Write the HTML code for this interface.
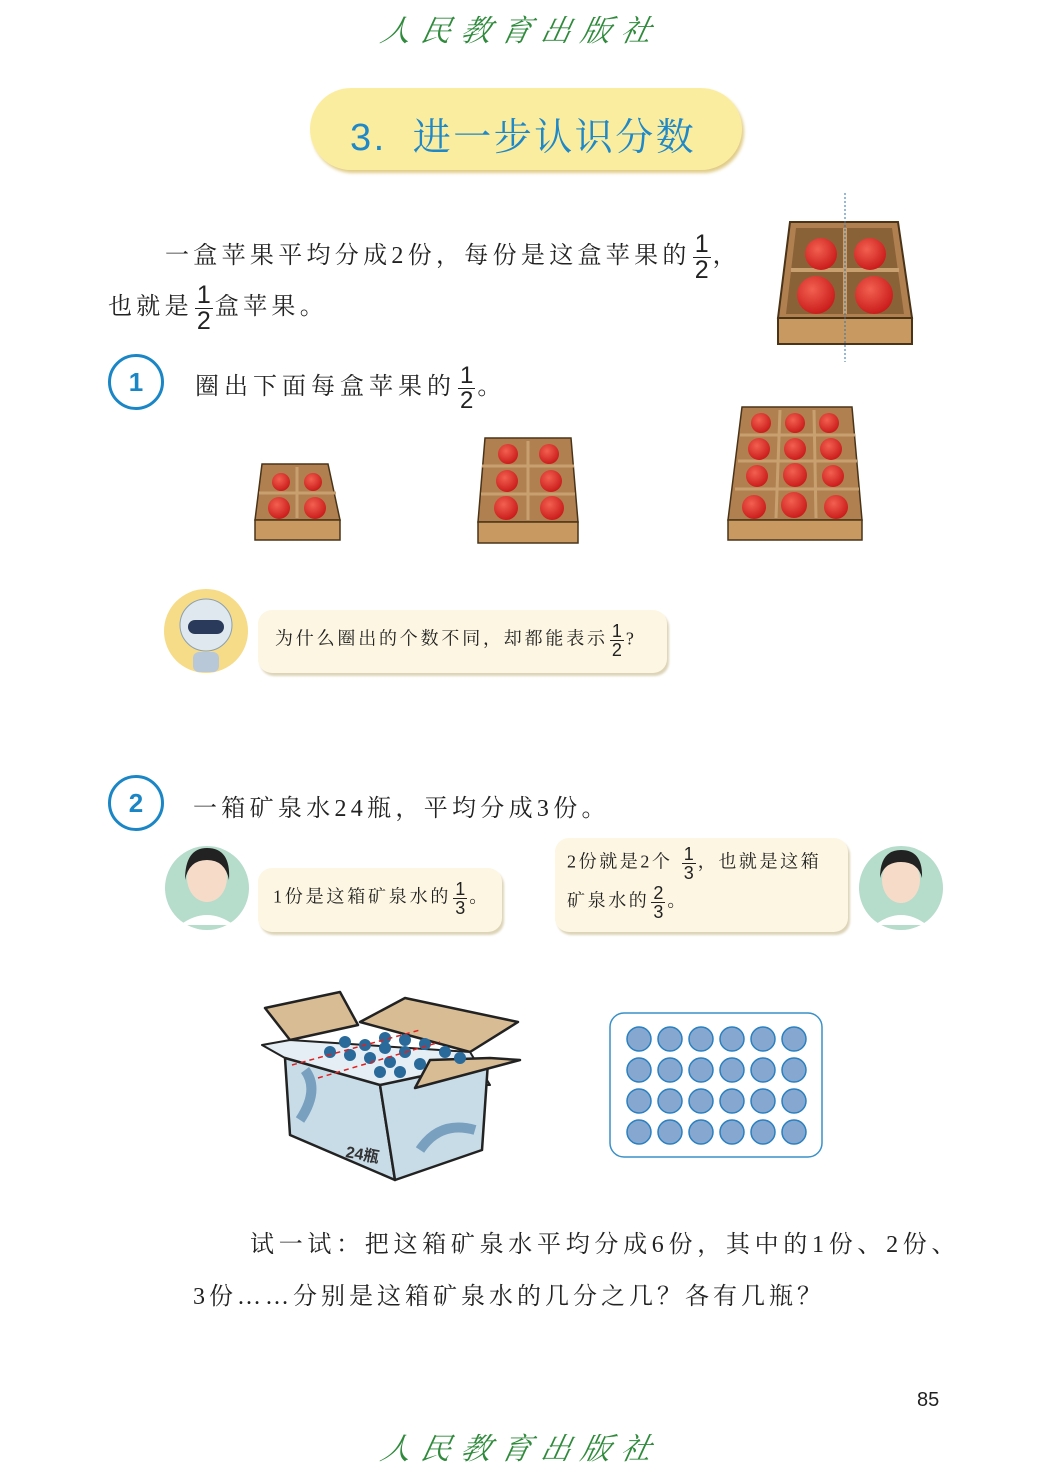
<!DOCTYPE html>
<html><head><meta charset="utf-8"><style>
*{margin:0;padding:0;box-sizing:border-box}
body{width:1043px;height:1474px;background:#fff;position:relative;overflow:hidden;font-family:"Liberation Serif","Noto Serif CJK SC","Noto Sans CJK SC",serif;color:#222}
.a{position:absolute;white-space:nowrap}
.logo{font-family:"Noto Serif CJK SC",serif;font-style:italic;color:#2f8a3c;font-size:30px;letter-spacing:10px;transform:skewX(-12deg)}
.fr{display:inline-block;vertical-align:middle;text-align:center;font-family:"Liberation Sans",sans-serif;line-height:1;margin:0 2px;letter-spacing:0}
.fr span{display:block;padding:0 2px}
.fr span:first-child{border-bottom:1.5px solid #222}
.circ{position:absolute;width:56px;height:56px;border:3px solid #1a86c6;border-radius:50%;color:#1a86c6;font:bold 26px "Liberation Sans",sans-serif;text-align:center;line-height:50px}
.bub{position:absolute;background:#fcf6e2;border-radius:14px;box-shadow:2px 3px 2px #ddd4b8;font-size:18px}
</style></head><body>

<div class="a logo" style="left:382px;top:6px">人民教育出版社</div>
<div class="a logo" style="left:382px;top:1424px">人民教育出版社</div>

<div class="a" style="left:310px;top:88px;width:432px;height:82px;border-radius:41px;background:#fbeda0;box-shadow:2px 3px 3px #e0cc88"></div>
<div class="a" style="left:350px;top:106px;font-size:38px;color:#1e88c8;letter-spacing:2.5px;font-family:'Liberation Sans','Noto Serif CJK SC',serif">3.&nbsp; 进一步认识分数</div>

<div class="a" style="left:165px;top:232px;font-size:24px;letter-spacing:4.3px">一盒苹果平均分成2份，每份是这盒苹果的<span class="fr" style="font-size:25px"><span>1</span><span>2</span></span>，</div>
<div class="a" style="left:108px;top:283px;font-size:24px;letter-spacing:4.3px">也就是<span class="fr" style="font-size:25px"><span>1</span><span>2</span></span>盒苹果。</div>

<svg class="a" style="left:0;top:0" width="1043" height="1474">
<defs>
<radialGradient id="ap" cx="0.4" cy="0.35" r="0.7"><stop offset="0" stop-color="#f26050"/><stop offset="1" stop-color="#c81818"/></radialGradient>
</defs>
<g>
<polygon points="790,222 898,222 912,318 778,318" fill="#b08050" stroke="#4a3418" stroke-width="2"/>
<rect x="778" y="318" width="134" height="26" fill="#c89a62" stroke="#4a3418" stroke-width="2"/>
<polygon points="796,228 892,228 904,314 786,314" fill="#8a6238"/>
<line x1="845" y1="228" x2="845" y2="314" stroke="#c8a070" stroke-width="4"/>
<line x1="791" y1="270" x2="899" y2="270" stroke="#c8a070" stroke-width="4"/>
<circle cx="821" cy="254" r="16" fill="url(#ap)"/><circle cx="870" cy="254" r="16" fill="url(#ap)"/>
<circle cx="816" cy="295" r="19" fill="url(#ap)"/><circle cx="874" cy="295" r="19" fill="url(#ap)"/>
<line x1="845" y1="193" x2="845" y2="362" stroke="#3070b0" stroke-width="1" stroke-dasharray="2,2"/>
</g>
<g>
<polygon points="262,464 328,464 340,520 255,520" fill="#b08050" stroke="#4a3418" stroke-width="1.5"/>
<rect x="255" y="520" width="85" height="20" fill="#c89a62" stroke="#4a3418" stroke-width="1.5"/>
<line x1="297" y1="467" x2="297" y2="518" stroke="#c8a070" stroke-width="3"/>
<line x1="259" y1="493" x2="336" y2="493" stroke="#c8a070" stroke-width="3"/>
<circle cx="281" cy="482" r="9" fill="url(#ap)"/><circle cx="313" cy="482" r="9" fill="url(#ap)"/>
<circle cx="279" cy="508" r="11" fill="url(#ap)"/><circle cx="315" cy="508" r="11" fill="url(#ap)"/>
</g>
<g>
<polygon points="485,438 571,438 578,522 478,522" fill="#b08050" stroke="#4a3418" stroke-width="1.5"/>
<rect x="478" y="522" width="100" height="21" fill="#c89a62" stroke="#4a3418" stroke-width="1.5"/>
<line x1="528" y1="441" x2="528" y2="520" stroke="#c8a070" stroke-width="3"/>
<line x1="482" y1="466" x2="574" y2="466" stroke="#c8a070" stroke-width="3"/>
<line x1="481" y1="494" x2="575" y2="494" stroke="#c8a070" stroke-width="3"/>
<circle cx="508" cy="454" r="10" fill="url(#ap)"/><circle cx="549" cy="454" r="10" fill="url(#ap)"/>
<circle cx="507" cy="481" r="11" fill="url(#ap)"/><circle cx="551" cy="481" r="11" fill="url(#ap)"/>
<circle cx="506" cy="508" r="12" fill="url(#ap)"/><circle cx="552" cy="508" r="12" fill="url(#ap)"/>
</g>
<g>
<polygon points="742,407 852,407 862,520 728,520" fill="#b08050" stroke="#4a3418" stroke-width="1.5"/>
<rect x="728" y="520" width="134" height="20" fill="#c89a62" stroke="#4a3418" stroke-width="1.5"/>
<line x1="780" y1="410" x2="776" y2="518" stroke="#c8a070" stroke-width="3"/>
<line x1="814" y1="410" x2="816" y2="518" stroke="#c8a070" stroke-width="3"/>
<line x1="740" y1="435" x2="855" y2="435" stroke="#c8a070" stroke-width="3"/>
<line x1="738" y1="461" x2="857" y2="461" stroke="#c8a070" stroke-width="3"/>
<line x1="735" y1="489" x2="859" y2="489" stroke="#c8a070" stroke-width="3"/>
<circle cx="761" cy="423" r="10" fill="url(#ap)"/><circle cx="795" cy="423" r="10" fill="url(#ap)"/><circle cx="829" cy="423" r="10" fill="url(#ap)"/>
<circle cx="759" cy="449" r="11" fill="url(#ap)"/><circle cx="795" cy="449" r="11" fill="url(#ap)"/><circle cx="831" cy="449" r="11" fill="url(#ap)"/>
<circle cx="757" cy="476" r="11" fill="url(#ap)"/><circle cx="795" cy="475" r="12" fill="url(#ap)"/><circle cx="833" cy="476" r="11" fill="url(#ap)"/>
<circle cx="754" cy="507" r="12" fill="url(#ap)"/><circle cx="794" cy="505" r="13" fill="url(#ap)"/><circle cx="836" cy="507" r="12" fill="url(#ap)"/>
</g>
<g stroke="#222" stroke-width="2.5" stroke-linejoin="round">
<polygon points="265,1008 340,992 358,1025 290,1040" fill="#d8bc94"/>
<polygon points="360,1022 405,998 518,1022 470,1052" fill="#d8bc94"/>
<polygon points="262,1045 290,1040 470,1052 490,1085 375,1085 285,1058" fill="#e4eef4" stroke-width="2"/>
<polygon points="285,1058 380,1085 395,1180 290,1135" fill="#c8dce8"/>
<polygon points="380,1085 488,1062 482,1150 395,1180" fill="#c8dce8"/>
<polygon points="430,1060 490,1058 520,1060 415,1088" fill="#d8bc94"/>
</g>
<g fill="#2a6a9a">
<circle cx="330" cy="1052" r="6"/><circle cx="350" cy="1055" r="6"/><circle cx="370" cy="1058" r="6"/><circle cx="390" cy="1062" r="6"/>
<circle cx="345" cy="1042" r="6"/><circle cx="365" cy="1045" r="6"/><circle cx="385" cy="1048" r="6"/><circle cx="405" cy="1052" r="6"/>
<circle cx="385" cy="1038" r="6"/><circle cx="405" cy="1040" r="6"/><circle cx="425" cy="1044" r="6"/><circle cx="445" cy="1052" r="6"/>
<circle cx="400" cy="1072" r="6"/><circle cx="380" cy="1072" r="6"/><circle cx="420" cy="1064" r="6"/><circle cx="460" cy="1058" r="6"/>
</g>
<path d="M300,1120 q20,-30 5,-50 M420,1150 q20,-30 55,-20" stroke="#7aa0c0" stroke-width="10" fill="none"/>
<line x1="292" y1="1065" x2="420" y2="1030" stroke="#e02020" stroke-width="1.5" stroke-dasharray="5,4"/>
<line x1="318" y1="1078" x2="440" y2="1042" stroke="#e02020" stroke-width="1.5" stroke-dasharray="5,4"/>
<text x="345" y="1157" font-family="Liberation Sans,Noto Sans CJK SC,sans-serif" font-size="16" font-weight="bold" fill="#333" transform="rotate(10 345 1157)">24瓶</text>
<rect x="610" y="1013" width="212" height="144" rx="14" fill="#fff" stroke="#3a90c8" stroke-width="1.5"/>
<g fill="#86a8d0" stroke="#2a80c0" stroke-width="1.5">
<circle cx="639" cy="1039" r="12"/><circle cx="670" cy="1039" r="12"/><circle cx="701" cy="1039" r="12"/><circle cx="732" cy="1039" r="12"/><circle cx="763" cy="1039" r="12"/><circle cx="794" cy="1039" r="12"/>
<circle cx="639" cy="1070" r="12"/><circle cx="670" cy="1070" r="12"/><circle cx="701" cy="1070" r="12"/><circle cx="732" cy="1070" r="12"/><circle cx="763" cy="1070" r="12"/><circle cx="794" cy="1070" r="12"/>
<circle cx="639" cy="1101" r="12"/><circle cx="670" cy="1101" r="12"/><circle cx="701" cy="1101" r="12"/><circle cx="732" cy="1101" r="12"/><circle cx="763" cy="1101" r="12"/><circle cx="794" cy="1101" r="12"/>
<circle cx="639" cy="1132" r="12"/><circle cx="670" cy="1132" r="12"/><circle cx="701" cy="1132" r="12"/><circle cx="732" cy="1132" r="12"/><circle cx="763" cy="1132" r="12"/><circle cx="794" cy="1132" r="12"/>
</g>
<circle cx="206" cy="631" r="42" fill="#f6dc88"/>
<circle cx="206" cy="625" r="26" fill="#dfe8ee" stroke="#8aa0b0"/>
<rect x="188" y="620" width="36" height="14" rx="7" fill="#2a3a5a"/>
<rect x="193" y="652" width="26" height="20" rx="6" fill="#b8c8d8"/>
<circle cx="207" cy="888" r="42" fill="#b6dccb"/>
<ellipse cx="207" cy="878" rx="20" ry="24" fill="#f6dcc8"/><path d="M185,880 q0,-32 22,-32 q24,0 22,32 q-4,-20 -22,-20 q-18,0 -22,20z" fill="#222"/>
<path d="M180,925 q27,-20 54,0z" fill="#fff"/>
<circle cx="901" cy="888" r="42" fill="#b6dccb"/>
<ellipse cx="901" cy="880" rx="19" ry="23" fill="#f6dcc8"/><path d="M880,878 q0,-28 21,-28 q22,0 21,28 q-4,-16 -21,-16 q-17,0 -21,16z" fill="#222"/>
<path d="M875,925 q26,-20 52,0z" fill="#fff"/>
</svg>

<div class="circ" style="left:108px;top:354px">1</div>
<div class="a" style="left:195px;top:364px;font-size:24px;letter-spacing:5px">圈出下面每盒苹果的<span class="fr" style="font-size:24px"><span>1</span><span>2</span></span>。</div>

<div class="bub" style="left:258px;top:610px;width:409px;height:63px"></div>
<div class="a" style="left:275px;top:622px;font-size:18px;letter-spacing:2.8px">为什么圈出的个数不同，却都能表示<span class="fr" style="font-size:18px"><span>1</span><span>2</span></span>?</div>

<div class="circ" style="left:108px;top:775px">2</div>
<div class="a" style="left:193px;top:788px;font-size:24px;letter-spacing:4.3px">一箱矿泉水24瓶，平均分成3份。</div>

<div class="bub" style="left:258px;top:868px;width:244px;height:64px"></div>
<div class="a" style="left:273px;top:880px;font-size:18px;letter-spacing:2.8px">1份是这箱矿泉水的<span class="fr" style="font-size:18px"><span>1</span><span>3</span></span>。</div>
<div class="bub" style="left:555px;top:838px;width:293px;height:94px"></div>
<div class="a" style="left:567px;top:845px;font-size:18px;letter-spacing:2.6px">2份就是2个 <span class="fr" style="font-size:18px"><span>1</span><span>3</span></span>，也就是这箱</div>
<div class="a" style="left:567px;top:884px;font-size:18px;letter-spacing:2.6px">矿泉水的<span class="fr" style="font-size:18px"><span>2</span><span>3</span></span>。</div>

<div class="a" style="left:250px;top:1224px;font-size:24px;letter-spacing:4.7px">试一试：把这箱矿泉水平均分成6份，其中的1份、2份、</div>
<div class="a" style="left:193px;top:1276px;font-size:24px;letter-spacing:4px">3份……分别是这箱矿泉水的几分之几？各有几瓶？</div>

<div class="a" style="left:917px;top:1389px;font:20px 'Liberation Sans',sans-serif">85</div>
</body></html>
